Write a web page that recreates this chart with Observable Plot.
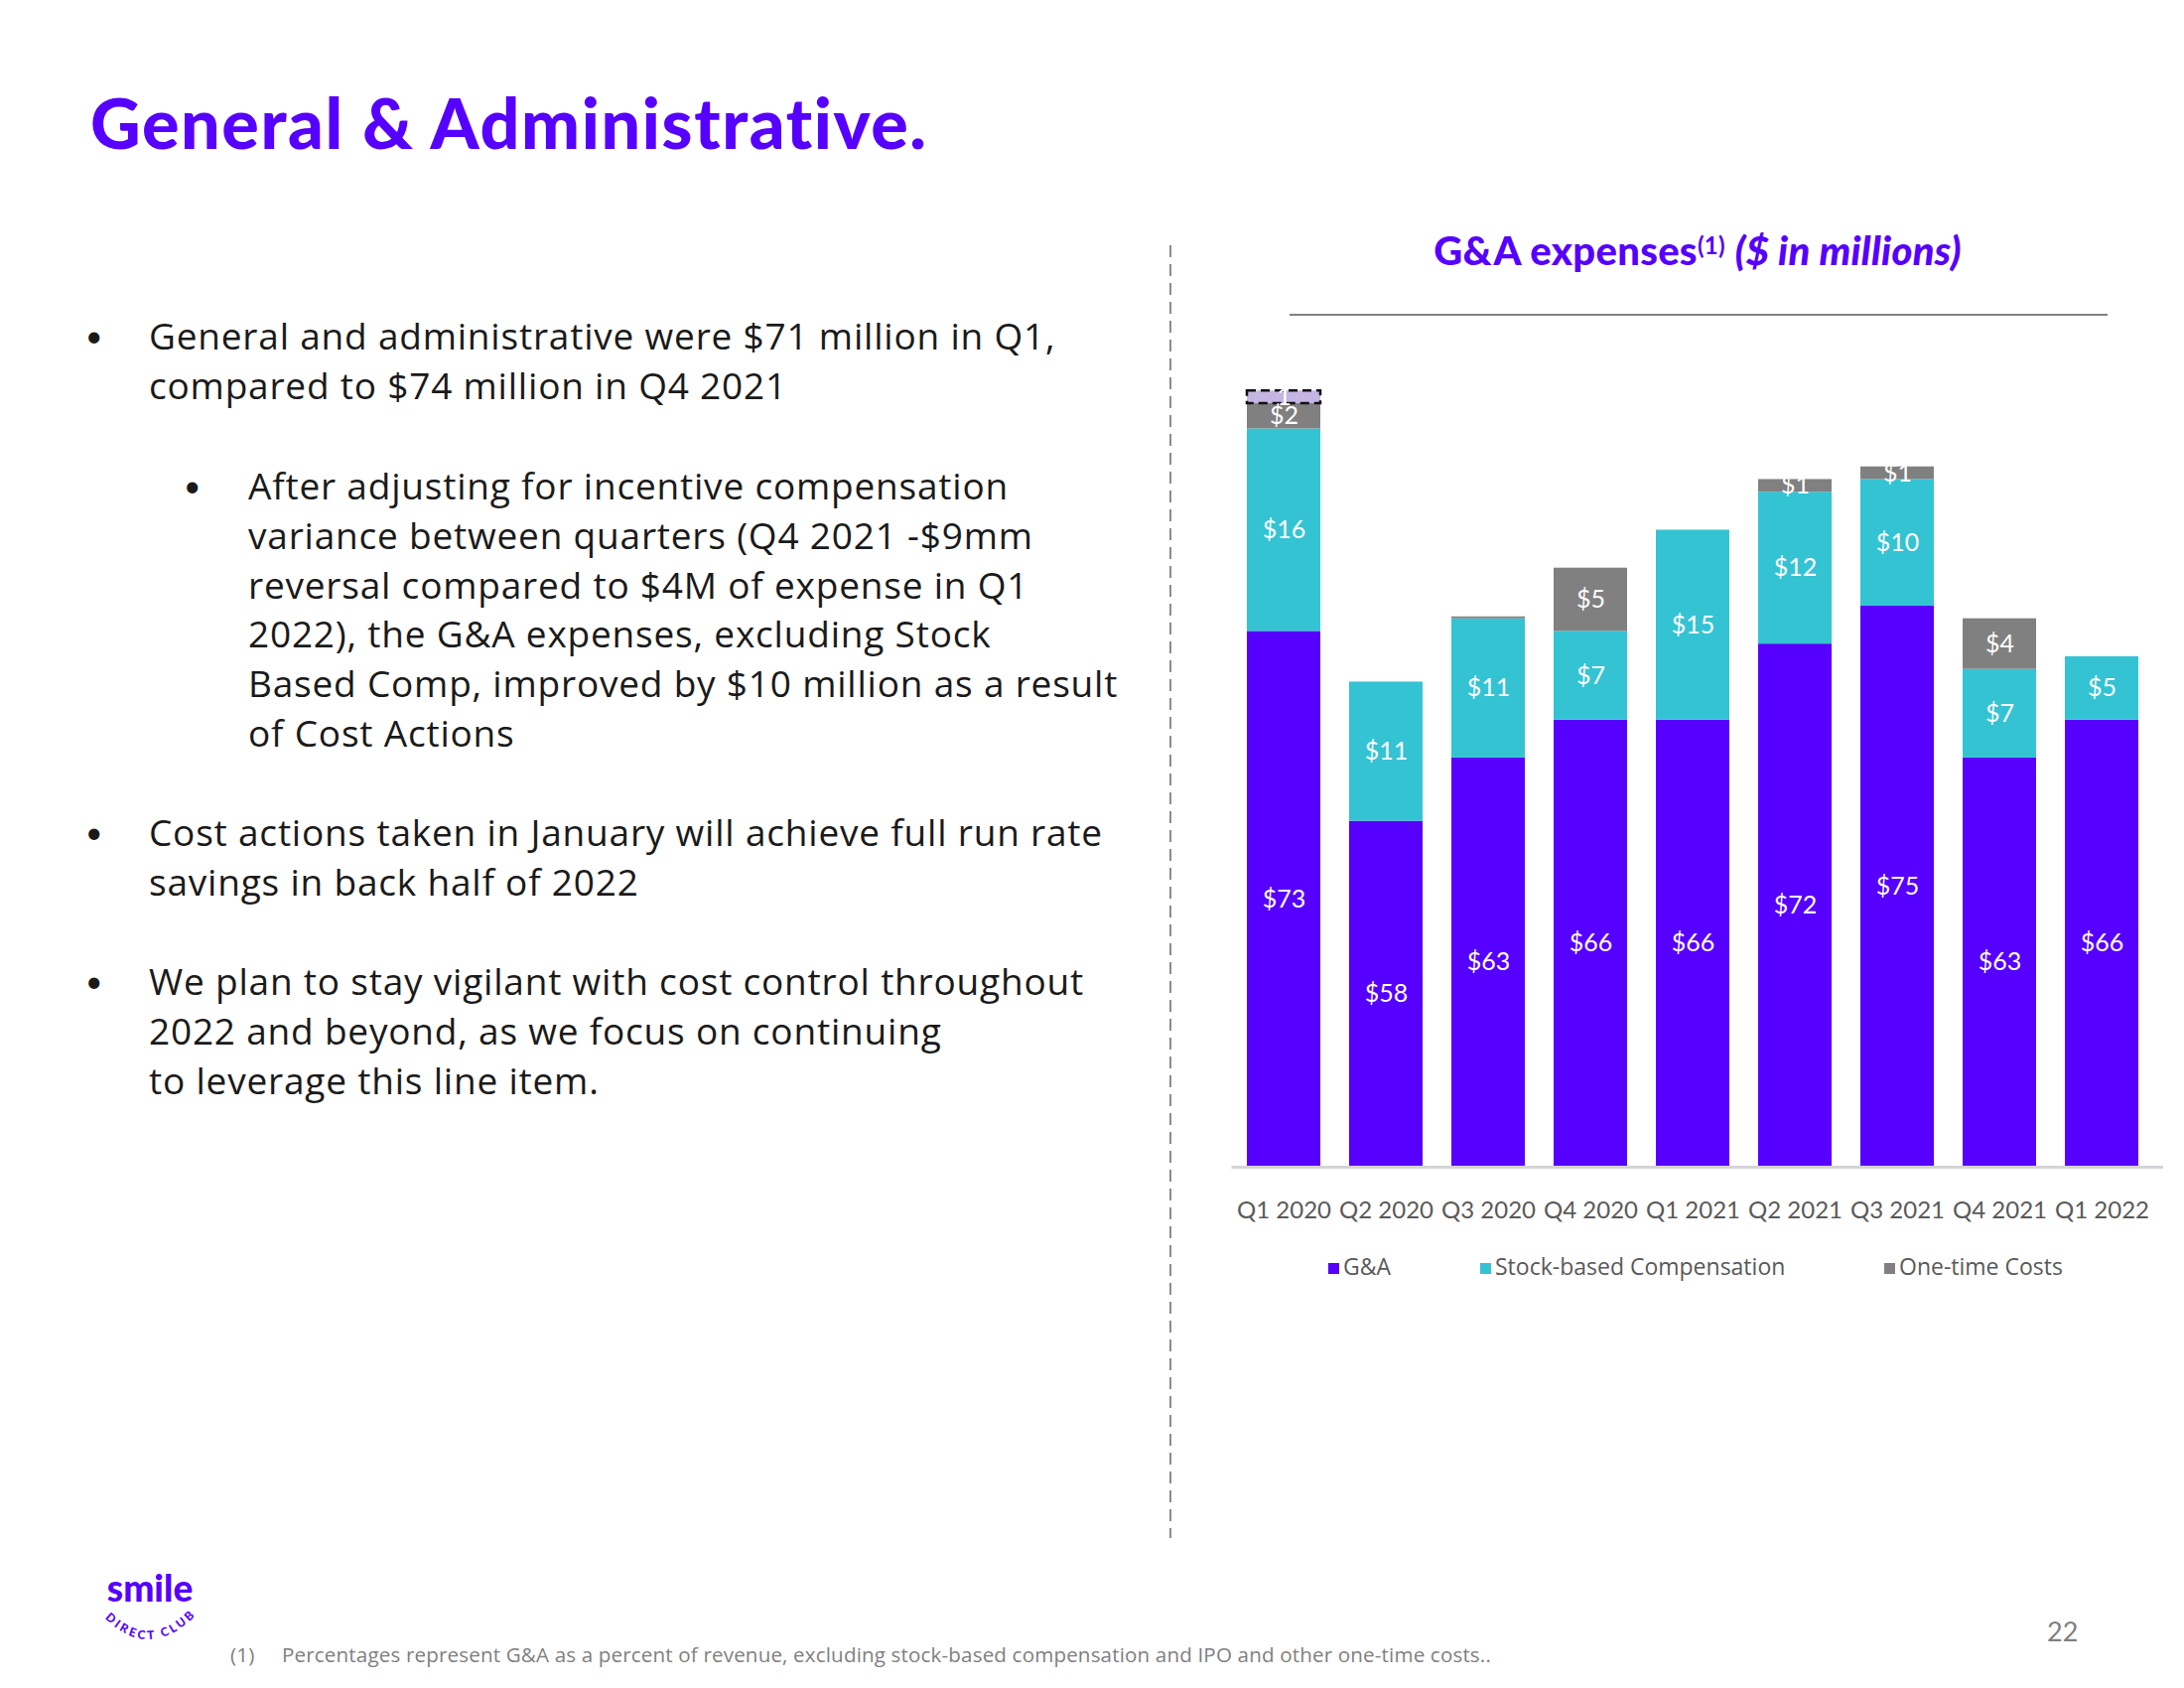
<!DOCTYPE html>
<html><head><meta charset="utf-8">
<script src="https://cdn.jsdelivr.net/npm/d3@7"></script>
<script src="https://cdn.jsdelivr.net/npm/@observablehq/plot@0.6"></script>
<style>
html,body{margin:0;padding:0;background:#fff}
body{width:2200px;height:1700px;position:relative;overflow:hidden;font-family:Lato,"Noto Sans",sans-serif}
.abs{position:absolute}
.title{left:91px;top:78px;font-size:70px;font-weight:900;color:#5600ff;line-height:90px;white-space:nowrap;letter-spacing:1.6px}
.txt{font-family:"Open Sans",Lato,sans-serif;font-size:37px;letter-spacing:0.8px;line-height:49.8px;color:#1a1a1a;white-space:nowrap}
.dot{font-size:30px;line-height:49.8px;color:#1a1a1a}
.ctitle{left:1310px;width:800px;top:228px;text-align:center;font-size:40px;font-weight:900;color:#5600ff;line-height:48px;white-space:nowrap;letter-spacing:0.3px}
.ctitle sup{font-size:24px;font-weight:700;vertical-align:top;position:relative;top:-5px}
.legend{top:1262px;font-family:"Open Sans",Lato,sans-serif;font-size:23px;color:#595959;line-height:26px;white-space:nowrap}
.sw{display:inline-block;width:11px;height:11px;margin-right:4px;vertical-align:1px}
.foot{top:1653px;font-family:"Open Sans",Lato,sans-serif;font-size:20.6px;letter-spacing:0.15px;color:#7f7f7f;line-height:26px;white-space:nowrap}
</style></head><body>
<div id="chart" class="abs" style="left:1230px;top:348px"></div>

<div class="abs title">General &amp; Administrative.</div>

<div class="abs dot" style="left:86px;top:313px">•</div>
<div class="abs txt" style="left:150px;top:313px">General and administrative were $71 million in Q1,<br>compared to $74 million in Q4 2021</div>

<div class="abs dot" style="left:185px;top:464px">•</div>
<div class="abs txt" style="left:250px;top:464px">After adjusting for incentive compensation<br>variance between quarters (Q4 2021 -$9mm<br>reversal compared to $4M of expense in Q1<br>2022), the G&amp;A expenses, excluding Stock<br>Based Comp, improved by $10 million as a result<br>of Cost Actions</div>

<div class="abs dot" style="left:86px;top:813px">•</div>
<div class="abs txt" style="left:150px;top:813px">Cost actions taken in January will achieve full run rate<br>savings in back half of 2022</div>

<div class="abs dot" style="left:86px;top:963px">•</div>
<div class="abs txt" style="left:150px;top:963px">We plan to stay vigilant with cost control throughout<br>2022 and beyond, as we focus on continuing<br>to leverage this line item.</div>

<svg class="abs" style="left:1170px;top:240px" width="20" height="1320">
  <line x1="9" y1="7" x2="9" y2="1309" stroke="#8c8c8c" stroke-width="2" stroke-dasharray="12,7"/>
</svg>

<div class="abs ctitle">G&amp;A expenses<sup>(1)</sup> <i>($ in millions)</i></div>
<div class="abs" style="left:1299px;top:316px;width:824px;height:2px;background:#808080"></div>

<div id="legend"></div>

<div class="abs foot" style="left:232px">(1)</div>
<div class="abs foot" style="left:284px">Percentages represent G&amp;A as a percent of revenue, excluding stock-based compensation and IPO and other one-time costs..</div>
<div class="abs" style="left:2062px;top:1628px;font-size:27px;color:#7f7f7f;line-height:30px">22</div>

<svg class="abs" style="left:90px;top:1570px" width="130" height="110">
  <text x="61" y="43" text-anchor="middle" font-family="Lato" font-weight="900" font-size="37" fill="#5600ff">smile</text>
  <path id="arc" d="M 18 62 Q 61 102 106 58" fill="none"/>
  <text font-family="Lato" font-weight="900" font-size="12" fill="#5600ff" letter-spacing="2.8"><textPath href="#arc" startOffset="50%" text-anchor="middle">DIRECT CLUB</textPath></text>
</svg>

<script>
// ---- data ----
const quarters = ["Q1 2020","Q2 2020","Q3 2020","Q4 2020","Q1 2021","Q2 2021","Q3 2021","Q4 2021","Q1 2022"];
const gna      = [73, 58, 63, 66, 66, 72, 75, 63, 66];
const sbc      = [16, 11, 11,  7, 15, 12, 10,  7,  5];
const oneTime  = [ 2,  0, 0.15, 5,  0,  1,  1,  4,  0];
const other    = [ 1,  0,  0,  0,  0,  0,  0,  0,  0];
const seriesNames  = ["G&A", "Stock-based Compensation", "One-time Costs", "Other"];
const legendNames  = ["G&A", "Stock-based Compensation", "One-time Costs"];
const seriesColors = ["#5600ff", "#34c3d3", "#808080", "#c4b5e3"];
const yDomain = [30.67, 95];

// ---- long table with stacked extents ----
const seriesValues = [gna, sbc, oneTime, other];
const rows = [];
quarters.forEach((q, i) => {
  let base = 0;
  seriesValues.forEach((vals, s) => {
    const v = vals[i];
    if (v > 0) {
      const lo = Math.max(base, yDomain[0]);
      rows.push({
        quarter: q, series: seriesNames[s], value: v,
        y1: base, y2: base + v, ymid: (lo + base + v) / 2,
        label: s === 3 ? String(v) : "$" + Math.round(v)
      });
    }
    base += v;
  });
});

const chart = Plot.plot({
  width: 970,
  height: 897,
  marginTop: 7,
  marginBottom: 70,
  marginLeft: 10.5,
  marginRight: 31,
  style: {fontFamily: "Lato", background: "transparent", overflow: "visible"},
  x: {domain: quarters, paddingInner: 0.28, paddingOuter: 0.14, label: null},
  y: {domain: yDomain, clamp: true, axis: null},
  color: {domain: seriesNames, range: seriesColors},
  marks: [
    Plot.barY(rows.filter(d => d.series !== "Other"), {x: "quarter", y1: "y1", y2: "y2", fill: "series"}),
    Plot.barY(rows.filter(d => d.series === "Other"), {x: "quarter", y1: "y1", y2: "y2", fill: "series",
      stroke: "#111", strokeWidth: 2.5, strokeDasharray: "9,5"}),
    Plot.ruleY([yDomain[0]], {stroke: "#d6d3d8", strokeWidth: 3, insetRight: -10}),
    Plot.text(rows.filter(d => d.value >= 0.5), {x: "quarter", y: "ymid", text: "label", fill: "white", fontSize: 25}),
    Plot.axisX({tickSize: 0, tickPadding: 34, fontSize: 24, fill: "#595959", label: null})
  ]
});
document.getElementById("chart").appendChild(chart);

// ---- legend ----
const legendX = [1338, 1491, 1898];
const leg = document.getElementById("legend");
legendNames.forEach((n, i) => {
  const d = document.createElement("div");
  d.className = "abs legend";
  d.style.left = legendX[i] + "px";
  d.innerHTML = `<span class="sw" style="background:${seriesColors[i]}"></span>` + n.replace("&", "&amp;");
  leg.appendChild(d);
});
</script>
</body></html>
